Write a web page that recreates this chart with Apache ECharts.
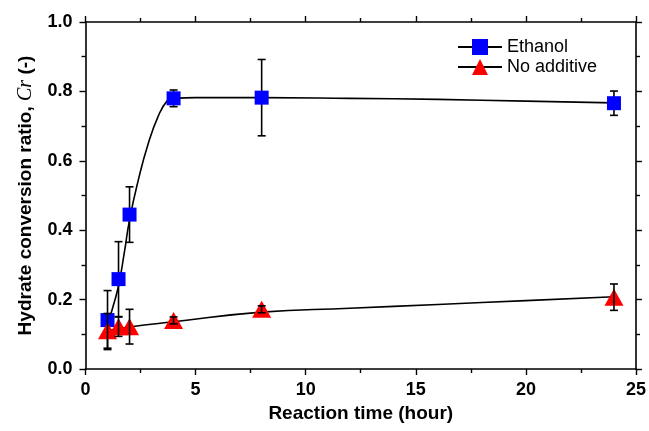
<!DOCTYPE html>
<html>
<head>
<meta charset="utf-8">
<script src="https://cdn.jsdelivr.net/npm/echarts@6/dist/echarts.min.js"></script>
<style>
  html, body { margin: 0; padding: 0; background: #fff; }
  #chart { width: 649px; height: 431px; }
</style>
</head>
<body>
<div id="chart"></div>
<script>
// Sampling times (hour)
const hours = [1, 1.5, 2, 4, 8, 24];

// Measured conversion ratio and standard deviation
const ethanol = [0.141, 0.259, 0.445, 0.780, 0.782, 0.766];
const ethanolErr = [0.085, 0.108, 0.080, 0.024, 0.110, 0.035];
const noAdditive = [0.110, 0.122, 0.122, 0.140, 0.172, 0.207];
const noAdditiveErr = [0.050, 0.028, 0.050, 0.010, 0.010, 0.038];

// Fitted trend curves
const ethanolFitX = [1, 1.25, 1.5, 1.75, 2, 2.4, 2.85, 3.3, 3.7, 4, 5, 8, 12, 16, 20, 24];
const ethanolFitY = [0.125, 0.18, 0.24, 0.33, 0.43, 0.545, 0.65, 0.728, 0.772, 0.78, 0.782, 0.782, 0.78, 0.777, 0.772, 0.767];
const noAddFitX = [1, 2, 4, 8, 12, 16, 20, 24];
const noAddFitY = [0.110, 0.121, 0.136, 0.164, 0.175, 0.186, 0.197, 0.208];

// Axis ticks
const xTicks = { min: 0, max: 25, interval: 5 };
const yTicks = { min: 0, max: 1, interval: 0.2 };

const FONT = 'Liberation Sans, Arial, sans-serif';

function pairs(xs, ys) { return xs.map((x, i) => [x, ys[i]]); }

function errorBars(ys, errs, z) {
  return {
    type: 'custom',
    z: z,
    silent: true,
    data: hours.map((h, i) => [h, ys[i] - errs[i], ys[i] + errs[i]]),
    encode: { x: 0, y: [1, 2] },
    renderItem(params, api) {
      const x = api.value(0);
      const lo = api.coord([x, api.value(1)]);
      const hi = api.coord([x, api.value(2)]);
      const w = 4;
      const style = { stroke: '#000', lineWidth: 1.6 };
      return {
        type: 'group',
        children: [
          { type: 'line', shape: { x1: lo[0], y1: lo[1], x2: hi[0], y2: hi[1] }, style },
          { type: 'line', shape: { x1: lo[0] - w, y1: lo[1], x2: lo[0] + w, y2: lo[1] }, style },
          { type: 'line', shape: { x1: hi[0] - w, y1: hi[1], x2: hi[0] + w, y2: hi[1] }, style }
        ]
      };
    }
  };
}

const axisLine = { show: true, onZero: false, lineStyle: { color: '#000', width: 1.6 } };
const tick = { show: true, inside: false, length: 6, lineStyle: { color: '#000', width: 1.4 } };
const minor = { show: true, inside: false, splitNumber: 2, length: 4, lineStyle: { color: '#000', width: 1.4 } };
const label = { color: '#000', fontFamily: FONT, fontWeight: 'bold', fontSize: 18 };

const chart = echarts.init(document.getElementById('chart'), null, { renderer: 'canvas' });
chart.setOption({
  animation: false,
  backgroundColor: '#fff',
  grid: { left: 85.5, right: 12, top: 22, bottom: 62 },
  legend: {
    orient: 'vertical',
    left: 452,
    top: 33,
    itemWidth: 44,
    itemHeight: 20,
    itemGap: 2,
    textStyle: { color: '#000', fontFamily: FONT, fontSize: 18 },
    data: ['Ethanol', 'No additive']
  },
  xAxis: [
    {
      type: 'value', position: 'bottom', ...xTicks,
      axisLine, axisTick: tick, minorTick: minor,
      splitLine: { show: false },
      axisLabel: { ...label, margin: 12 },
      name: 'Reaction time (hour)',
      nameLocation: 'middle',
      nameGap: 33,
      nameTextStyle: { color: '#000', fontFamily: FONT, fontWeight: 'bold', fontSize: 19 }
    },
    {
      type: 'value', position: 'top', ...xTicks,
      axisLine, axisTick: tick, minorTick: minor,
      splitLine: { show: false }, axisLabel: { show: false }
    }
  ],
  yAxis: [
    {
      type: 'value', position: 'left', ...yTicks,
      axisLine, axisTick: tick, minorTick: minor,
      splitLine: { show: false },
      axisLabel: { ...label, margin: 13, formatter: v => v.toFixed(1) },
      name: 'Hydrate conversion ratio, {i|Cr} (-)',
      nameLocation: 'middle',
      nameGap: 50,
      nameTextStyle: {
        color: '#000', fontFamily: FONT, fontWeight: 'bold', fontSize: 19,
        rich: {
          i: { color: '#000', fontFamily: 'Liberation Serif, DejaVu Serif, serif', fontStyle: 'italic', fontWeight: 'normal', fontSize: 20 }
        }
      }
    },
    {
      type: 'value', position: 'right', ...yTicks,
      axisLine, axisTick: tick, minorTick: minor,
      splitLine: { show: false }, axisLabel: { show: false }
    }
  ],
  series: [
    {
      name: 'Ethanol', type: 'line', z: 2,
      data: pairs(ethanolFitX, ethanolFitY),
      smooth: 0.5,
      symbol: 'rect', showSymbol: false,
      itemStyle: { color: '#0000ff' },
      lineStyle: { color: '#000', width: 1.6 }
    },
    {
      name: 'No additive', type: 'line', z: 2,
      data: pairs(noAddFitX, noAddFitY),
      smooth: 0.5,
      symbol: 'triangle', showSymbol: false,
      itemStyle: { color: '#ff0000' },
      lineStyle: { color: '#000', width: 1.6 }
    },
    errorBars(ethanol, ethanolErr, 3),
    {
      type: 'scatter', z: 4, silent: true,
      data: pairs(hours, ethanol),
      symbol: 'rect', symbolSize: 14,
      itemStyle: { color: '#0000ff', opacity: 1 }
    },
    {
      type: 'scatter', z: 5, silent: true,
      data: pairs(hours, noAdditive),
      symbol: 'triangle', symbolSize: [19, 17],
      itemStyle: { color: '#ff0000', opacity: 1 }
    },
    errorBars(noAdditive, noAdditiveErr, 6)
  ]
});
</script>
</body>
</html>
